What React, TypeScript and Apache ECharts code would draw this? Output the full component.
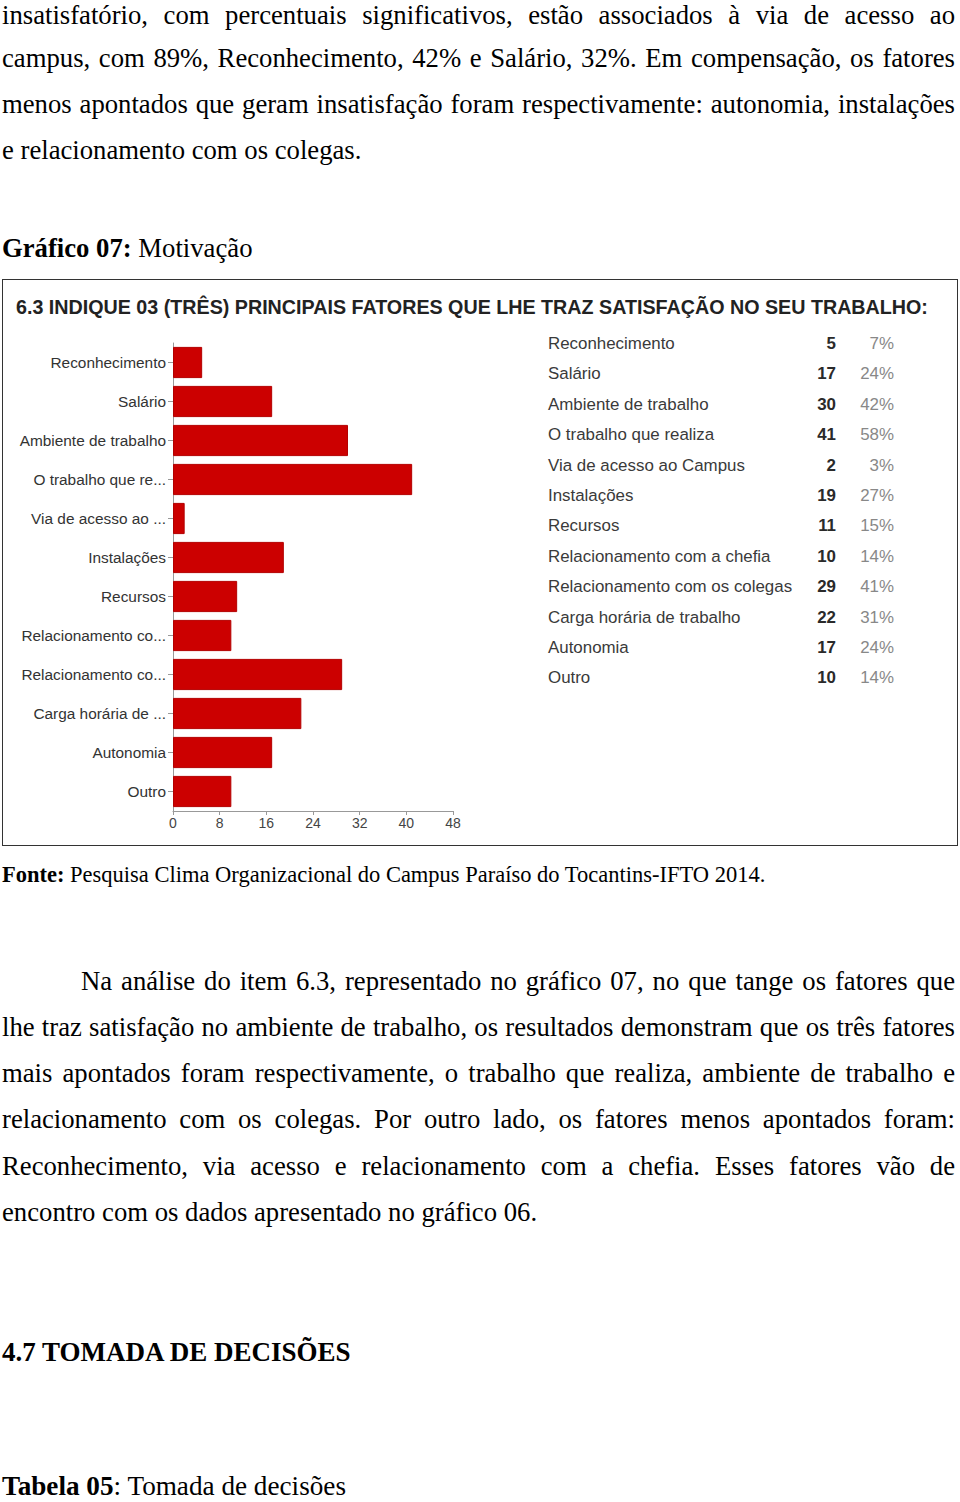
import React, { useEffect, useRef } from "react";
import * as echarts from "echarts";

const chartTitle = "6.3 INDIQUE 03 (TRÊS) PRINCIPAIS FATORES QUE LHE TRAZ SATISFAÇÃO NO SEU TRABALHO:";
const categories = [
  "Reconhecimento",
  "Salário",
  "Ambiente de trabalho",
  "O trabalho que realiza",
  "Via de acesso ao Campus",
  "Instalações",
  "Recursos",
  "Relacionamento com a chefia",
  "Relacionamento com os colegas",
  "Carga horária de trabalho",
  "Autonomia",
  "Outro",
];
const axisLabels = [
  "Reconhecimento",
  "Salário",
  "Ambiente de trabalho",
  "O trabalho que re...",
  "Via de acesso ao ...",
  "Instalações",
  "Recursos",
  "Relacionamento co...",
  "Relacionamento co...",
  "Carga horária de ...",
  "Autonomia",
  "Outro",
];
const counts = [5, 17, 30, 41, 2, 19, 11, 10, 29, 22, 17, 10];
const percents = [7, 24, 42, 58, 3, 27, 15, 14, 41, 31, 24, 14];
const xMin = 0;
const xMax = 48;
const xInterval = 8;

const paragraph1 = [
  "insatisfatório, com percentuais significativos, estão associados à via de acesso ao",
  "campus, com 89%, Reconhecimento, 42% e Salário, 32%. Em compensação, os fatores",
  "menos apontados que geram insatisfação foram respectivamente: autonomia, instalações",
  "e relacionamento com os colegas.",
];
const paragraph2 = [
  "Na análise do item 6.3, representado no gráfico 07, no que tange os fatores que",
  "lhe traz satisfação no ambiente de trabalho, os resultados demonstram que os três fatores",
  "mais apontados foram respectivamente, o trabalho que realiza, ambiente de trabalho e",
  "relacionamento com os colegas. Por outro lado, os fatores menos apontados foram:",
  "Reconhecimento, via acesso e relacionamento com a chefia. Esses fatores vão de",
  "encontro com os dados apresentado no gráfico 06.",
];

const SERIF = "'Liberation Serif', 'Times New Roman', serif";
const SANS = "'Liberation Sans', Arial, sans-serif";
const BODY = 26.7;

function Line({ text, center, left = 2, width = 953, justify = true, size = BODY, lh = 46, children }: any) {
  return (
    <div
      style={{
        position: "absolute",
        left,
        top: center - lh / 2,
        width,
        height: lh,
        lineHeight: lh + "px",
        fontFamily: SERIF,
        fontSize: size,
        color: "#000",
        whiteSpace: "nowrap",
        textAlign: justify ? "justify" : "left",
        textAlignLast: justify ? "justify" : "left",
      } as any}
    >
      {children ?? text}
    </div>
  );
}

function Chart() {
  const ref = useRef<HTMLDivElement>(null);
  useEffect(() => {
    if (!ref.current) return;
    const chart = echarts.init(ref.current, undefined, { renderer: "svg" });
    const rowTop = 62.5;
    const rowStep = 30.4;
    const tableTexts: any[] = [];
    categories.forEach((name, i) => {
      const y = rowTop + i * rowStep;
      tableTexts.push({
        type: "text",
        x: 544,
        y,
        style: { text: name, font: `16.9px ${SANS}`, fill: "#3a3a3a", verticalAlign: "middle", align: "left" },
      });
      tableTexts.push({
        type: "text",
        x: 832,
        y,
        style: { text: String(counts[i]), font: `bold 16.9px ${SANS}`, fill: "#2a2a2a", verticalAlign: "middle", align: "right" },
      });
      tableTexts.push({
        type: "text",
        x: 890,
        y,
        style: { text: percents[i] + "%", font: `16.9px ${SANS}`, fill: "#888", verticalAlign: "middle", align: "right" },
      });
    });
    chart.setOption({
      animation: false,
      title: {
        text: chartTitle,
        left: 12,
        top: 15,
        padding: 0,
        textStyle: { fontFamily: SANS, fontSize: 19.7, fontWeight: "bold", color: "#222", lineHeight: 22 },
      },
      grid: { left: 169, top: 62, width: 280, height: 468, containLabel: false },
      xAxis: {
        type: "value",
        min: xMin,
        max: xMax,
        interval: xInterval,
        axisLine: { show: true, lineStyle: { color: "#999", width: 1 } },
        axisTick: { show: true, length: 4, lineStyle: { color: "#999" } },
        splitLine: { show: false },
        axisLabel: { fontFamily: SANS, fontSize: 14, color: "#444", margin: 5 },
      },
      yAxis: {
        type: "category",
        inverse: true,
        data: categories,
        axisLine: { show: true, lineStyle: { color: "#999", width: 1 } },
        axisTick: { show: true, alignWithLabel: true, length: 5, lineStyle: { color: "#999" } },
        axisLabel: {
          fontFamily: SANS,
          fontSize: 15.4,
          color: "#333",
          margin: 7,
          formatter: (_v: string, idx: number) => axisLabels[idx],
        },
      },
      series: [
        {
          type: "bar",
          data: counts,
          barCategoryGap: "20%",
          itemStyle: { color: "#cc0000", borderColor: "#b30000", borderWidth: 1 },
        },
      ],
      graphic: tableTexts,
    });
    return () => chart.dispose();
  }, []);
  return <div ref={ref} style={{ position: "absolute", left: 1, top: 1, width: 954, height: 565 }} />;
}

export default function App() {
  return (
    <div style={{ position: "absolute", left: 0, top: 0, width: 960, height: 1502, background: "#fff", overflow: "hidden" }}>
      {paragraph1.map((t, i) => (
        <Line
          key={"p1" + i}
          text={t}
          center={i === 0 ? 15 : 12 + i * 46}
          lh={i === 0 ? 30 : 46}
          justify={i < paragraph1.length - 1}
        />
      ))}
      <Line center={248} justify={false}>
        <b>Gráfico 07:</b> Motivação
      </Line>
      <div
        style={{
          position: "absolute",
          left: 2,
          top: 279,
          width: 956,
          height: 567,
          boxSizing: "border-box",
          border: "1px solid #333",
        }}
      >
        <Chart />
      </div>
      <Line center={875} size={22.5} justify={false}>
        <b>Fonte:</b> Pesquisa Clima Organizacional do Campus Paraíso do Tocantins-IFTO 2014.
      </Line>
      {paragraph2.map((t, i) => (
        <Line
          key={"p2" + i}
          text={t}
          center={[981, 1027, 1073, 1119, 1166, 1212][i]}
          left={i === 0 ? 81 : 2}
          width={i === 0 ? 874 : 953}
          justify={i < paragraph2.length - 1}
        />
      ))}
      <Line center={1352} size={27} justify={false}>
        <b>4.7 TOMADA DE DECISÕES</b>
      </Line>
      <Line center={1486} lh={30} size={27.2} justify={false}>
        <b>Tabela 05</b>: Tomada de decisões
      </Line>
    </div>
  );
}
